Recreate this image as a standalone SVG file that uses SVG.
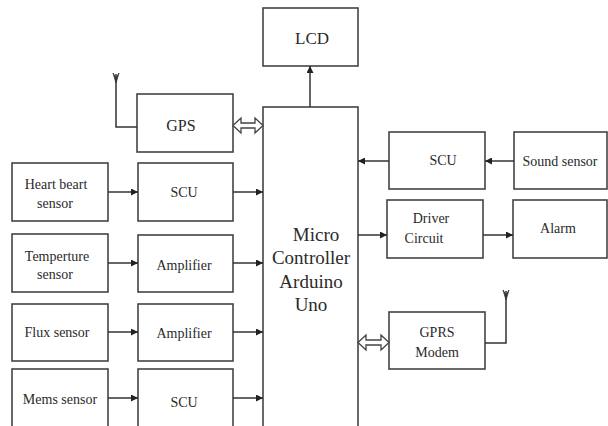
<svg xmlns="http://www.w3.org/2000/svg" width="608" height="426" viewBox="0 0 608 426">
<defs>
<style>
.b{fill:#fff;stroke:#444;stroke-width:1.6}
.c{fill:none;stroke:#333;stroke-width:1.5}
.d{fill:#fff;stroke:#444;stroke-width:1.3}
text{font-family:"Liberation Serif","Times New Roman",serif;fill:#2a2a2a;text-anchor:middle}
.s{font-size:14px}
.m{font-size:16px}
.l{font-size:19px}
</style>
<marker id="ah" viewBox="0 0 10 10" refX="10" refY="5" markerWidth="9" markerHeight="7" markerUnits="userSpaceOnUse" orient="auto"><path d="M0,0 L10,5 L0,10 z" fill="#222"/></marker>
</defs>
<rect width="608" height="426" fill="#fff"/>

<g id="lcd"><rect class="b" x="263" y="8" width="95" height="58"/><text class="m" x="312" y="44" style="font-size:17px">LCD</text></g>
<g id="mc"><rect class="b" x="263" y="107" width="95" height="330"/>
<text class="l" x="316" y="241">Micro</text>
<text class="l" x="311" y="264">Controller</text>
<text class="l" x="311" y="288">Arduino</text>
<text class="l" x="311" y="311">Uno</text></g>
<g id="gps"><rect class="b" x="137" y="94" width="96" height="58"/><text class="m" x="181" y="131">GPS</text></g>
<g id="heart"><rect class="b" x="12" y="163" width="96" height="58"/><text class="s" x="56" y="189">Heart beart</text><text class="s" x="55" y="208">sensor</text></g>
<g id="scu1"><rect class="b" x="138" y="163" width="95" height="58"/><text class="s" x="184" y="197">SCU</text></g>
<g id="temp"><rect class="b" x="12" y="234" width="96" height="58"/><text class="s" x="57" y="261">Temperture</text><text class="s" x="55" y="279">sensor</text></g>
<g id="amp1"><rect class="b" x="138" y="235" width="95" height="57"/><text class="s" x="184" y="270">Amplifier</text></g>
<g id="flux"><rect class="b" x="12" y="304" width="96" height="57"/><text class="s" x="57" y="337">Flux sensor</text></g>
<g id="amp2"><rect class="b" x="138" y="304" width="95" height="57"/><text class="s" x="184" y="338">Amplifier</text></g>
<g id="mems"><rect class="b" x="12" y="369" width="96" height="70"/><text class="s" x="60" y="404">Mems sensor</text></g>
<g id="scu2"><rect class="b" x="138" y="369" width="95" height="70"/><text class="s" x="184" y="407">SCU</text></g>
<g id="scu3"><rect class="b" x="389" y="132" width="96" height="57"/><text class="s" x="443" y="165">SCU</text></g>
<g id="sound"><rect class="b" x="514" y="132" width="93" height="57"/><text class="s" x="560" y="166">Sound sensor</text></g>
<g id="driver"><rect class="b" x="387" y="200" width="96" height="58"/><text class="s" x="431" y="223">Driver</text><text class="s" x="424" y="243">Circuit</text></g>
<g id="alarm"><rect class="b" x="513" y="200" width="94" height="58"/><text class="s" x="558" y="233">Alarm</text></g>
<g id="gprs"><rect class="b" x="389" y="312" width="96" height="57"/><text class="s" x="437" y="337">GPRS</text><text class="s" x="437" y="357">Modem</text></g>

<g id="connectors">
<line class="c" x1="310" y1="107" x2="310" y2="66" marker-end="url(#ah)"/>
<line class="c" x1="108" y1="192" x2="138" y2="192" marker-end="url(#ah)"/>
<line class="c" x1="233" y1="192" x2="263" y2="192" marker-end="url(#ah)"/>
<line class="c" x1="108" y1="263" x2="138" y2="263" marker-end="url(#ah)"/>
<line class="c" x1="233" y1="263" x2="263" y2="263" marker-end="url(#ah)"/>
<line class="c" x1="108" y1="332" x2="138" y2="332" marker-end="url(#ah)"/>
<line class="c" x1="233" y1="332" x2="263" y2="332" marker-end="url(#ah)"/>
<line class="c" x1="108" y1="398" x2="138" y2="398" marker-end="url(#ah)"/>
<line class="c" x1="233" y1="398" x2="263" y2="398" marker-end="url(#ah)"/>
<line class="c" x1="514" y1="161" x2="485" y2="161" marker-end="url(#ah)"/>
<line class="c" x1="389" y1="161" x2="358" y2="161" marker-end="url(#ah)"/>
<line class="c" x1="358" y1="235" x2="387" y2="235" marker-end="url(#ah)"/>
<line class="c" x1="483" y1="235" x2="513" y2="235" marker-end="url(#ah)"/>
<polygon class="d" points="233,125.5 241,118 241,123 255,123 255,118 263,125.5 255,133 255,128 241,128 241,133"/>
<polygon class="d" points="358,342.5 366,335 366,340 381,340 381,335 389,342.5 381,350 381,345 366,345 366,350"/>
<path class="c" d="M137,127 H116 V74"/>
<path d="M113,73 L116,83 L119,73 L116,78 z" fill="#333" stroke="#333" stroke-width="0.8"/>
<path class="c" d="M485,343 H506 V291"/>
<path d="M503,290 L506,300 L509,290 L506,295 z" fill="#333" stroke="#333" stroke-width="0.8"/>
</g>
</svg>
